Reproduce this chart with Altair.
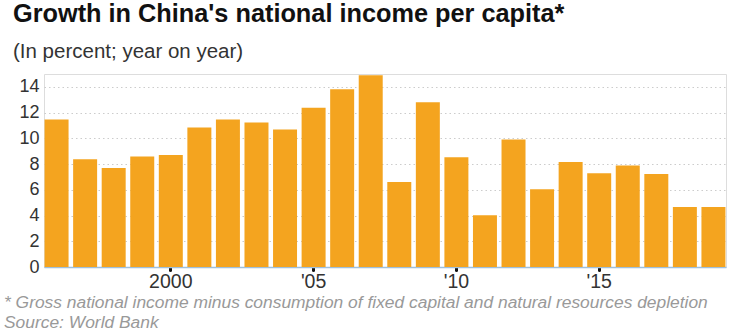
import altair as alt
import pandas as pd

years = list(range(1996, 2020))
growth = [11.46, 8.37, 7.70, 8.58, 8.71, 10.84, 11.46, 11.23, 10.68, 12.37, 13.82, 14.91,
          6.61, 12.81, 8.53, 4.02, 9.90, 6.04, 8.17, 7.29, 7.88, 7.23, 4.67, 4.67]
tick_years = [2000, 2005, 2010, 2015]

title_text = "Growth in China's national income per capita*"
subtitle_text = "(In percent; year on year)"
note_text = "* Gross national income minus consumption of fixed capital and natural resources depletion"
source_text = "Source: World Bank"

df = pd.DataFrame({"year": years, "growth": growth})
FONT = "Liberation Sans"

bars = alt.Chart(df).mark_bar(color="#F4A41F").encode(
    x=alt.X("year:O", scale=alt.Scale(paddingInner=0.16, paddingOuter=0.02),
            axis=alt.Axis(values=tick_years, title=None, labelAngle=0,
                          labelExpr="datum.value == 2000 ? '2000' : \"'\" + slice(toString(datum.value), 2)",
                          labelFont=FONT, labelFontSize=19.5, labelColor="#333333", labelPadding=2,
                          tickColor="#111111", tickSize=3, tickWidth=3, tickCap="round",
                          domainColor="#9fc0dc", domainWidth=1.5, grid=False)),
    y=alt.Y("growth:Q", scale=alt.Scale(domain=[0, 15], nice=False),
            axis=alt.Axis(values=[0, 2, 4, 6, 8, 10, 12, 14], title=None, ticks=False, domain=False,
                          labelFont=FONT, labelFontSize=18, labelColor="#333333", labelPadding=5,
                          gridColor="#cccccc", gridDash=[1.5, 3], gridWidth=1.2)),
)

def txt(s, x, y, size, color, weight="normal", style="normal"):
    return alt.Chart(pd.DataFrame({"t": [s]})).mark_text(
        align="left", baseline="alphabetic", font=FONT, fontSize=size, color=color,
        fontWeight=weight, fontStyle=style
    ).encode(text="t:N", x=alt.value(x), y=alt.value(y))

chart = alt.layer(
    bars,
    txt(title_text, -31, -52, 25.3, "#111111", weight="bold"),
    txt(subtitle_text, -31, -16, 20.5, "#333333"),
    txt(note_text, -40, 234, 17.4, "#999999", style="italic"),
    txt(source_text, -40, 254, 17.4, "#999999", style="italic"),
).properties(
    width=682, height=193,
    autosize=alt.AutoSizeParams(type="none"),
    padding={"left": 44, "top": 74, "right": 14, "bottom": 66},
).configure_view(stroke=None).configure(background="white")

chart.save("out.html", embed_options={"renderer": "svg", "actions": False})
